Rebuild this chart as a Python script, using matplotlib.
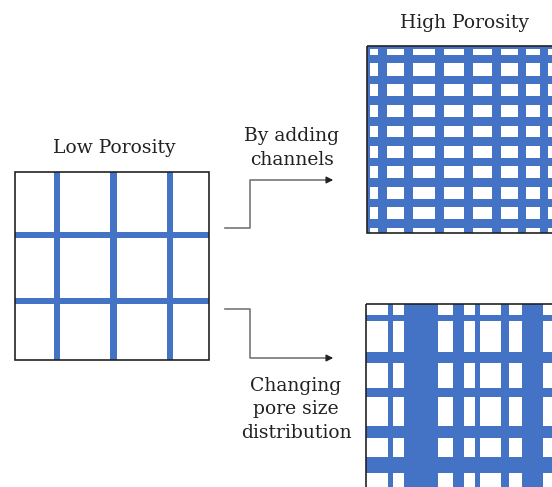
import matplotlib.pyplot as plt
from matplotlib.patches import Rectangle

# box outlines (left, top, right, bottom) in pixel units
low_box = (15, 172, 209, 360)
high_box = (367, 46, 600, 233)
dist_box = (366, 304, 600, 520)

# channel bands as (start, end)
low_vbands = [(53.5, 60), (110, 117), (166.5, 173)]
low_hbands = [(231.5, 238), (297.5, 304)]

high_vbands = [(367, 370), (377.5, 386.5), (404, 412.5), (435, 443.5), (463.5, 472.5),
               (492, 500.5), (518, 526), (539.5, 547.5)]
high_hbands = [(46, 48.5), (54.5, 63), (75.5, 84), (96, 104.5), (117, 125.5), (137, 145.5),
               (157.5, 166), (178, 186.5), (198.5, 207), (218.5, 227.5)]

dist_vbands = [(387.5, 392.5), (404, 438), (453, 464), (474.5, 479.5), (500.5, 509), (522, 543)]
dist_hbands = [(314.5, 320.5), (352, 363), (388, 396.5), (425.5, 437.5), (457, 473)]

titles = ['Low Porosity', 'High Porosity']
top_label = ['By adding', 'channels']
bottom_label = ['Changing', 'pore size', 'distribution']

blue = '#4472C4'
font = {'family': 'DejaVu Serif', 'size': 13.5, 'color': '#222222'}

fig = plt.figure(figsize=(5.52, 4.87), dpi=100)
ax = fig.add_axes([0, 0, 1, 1])
ax.set_xlim(0, 552)
ax.set_ylim(487, 0)
ax.axis('off')


def draw_grid(box, vbands, hbands):
    l, t, r, b = box
    for a, e in vbands:
        ax.bar((a + e) / 2, b - t, width=e - a, bottom=t, color=blue, lw=0)
    for a, e in hbands:
        ax.barh((a + e) / 2, r - l, height=e - a, left=l, color=blue, lw=0)
    ax.add_patch(Rectangle((l, t), r - l, b - t, fill=False,
                           edgecolor='#222222', lw=1.2, zorder=5))


draw_grid(low_box, low_vbands, low_hbands)
draw_grid(high_box, high_vbands, high_hbands)
draw_grid(dist_box, dist_vbands, dist_hbands)

ax.text(114, 153, titles[0], ha='center', va='baseline', fontdict=font)
ax.text(465, 28, titles[1], ha='center', va='baseline', fontdict=font)

for i, s in enumerate(top_label):
    ax.text(292, 141 + i * 24, s, ha='center', va='baseline', fontdict=font)
for i, s in enumerate(bottom_label):
    ax.text(296, 391 + i * 23.5, s, ha='center', va='baseline', fontdict=font)

# connector arrows
gray = '#777777'
ax.plot([225, 250, 250, 328], [228, 228, 180, 180], color=gray, lw=1.2)
ax.plot([225, 250, 250, 328], [309, 309, 358, 358], color=gray, lw=1.2)
for y in (180, 358):
    ax.annotate('', xy=(336, y), xytext=(326, y),
                arrowprops=dict(arrowstyle='-|>', color='#222222', lw=1.0,
                                mutation_scale=10))

fig.savefig('out.png', dpi=100)
